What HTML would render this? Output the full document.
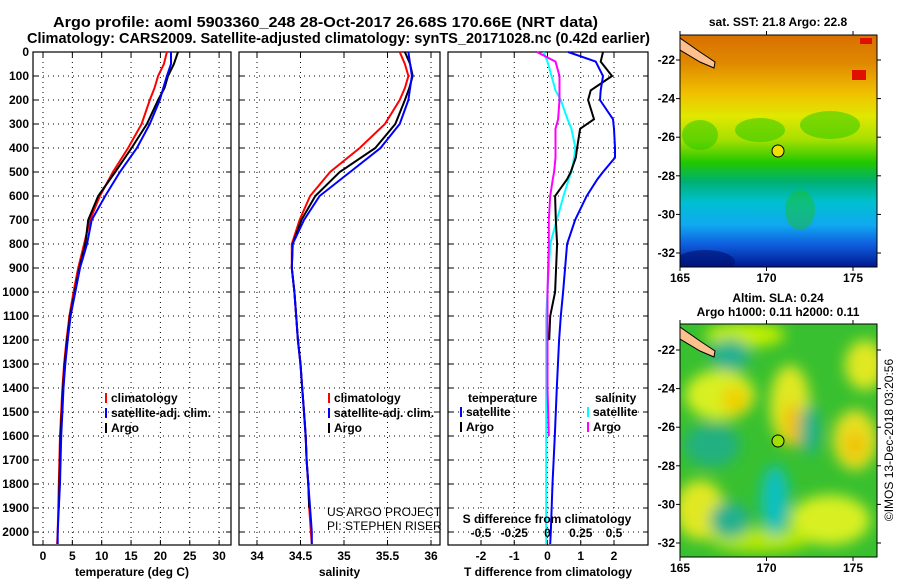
<!DOCTYPE html>
<html><head><meta charset="utf-8">
<style>
body{margin:0;background:#fff;}
svg{display:block;font-family:"Liberation Sans",sans-serif;font-weight:bold;}
</style></head>
<body>
<svg id="fig" width="900" height="580" viewBox="0 0 900 580">
<defs>
<linearGradient id="sstGrad" x1="0" y1="0" x2="0" y2="1">
<stop offset="0" stop-color="#d87000"/><stop offset="0.12" stop-color="#e08800"/>
<stop offset="0.25" stop-color="#f0c000"/><stop offset="0.35" stop-color="#e0e800"/>
<stop offset="0.45" stop-color="#a8e000"/><stop offset="0.55" stop-color="#20c800"/>
<stop offset="0.63" stop-color="#00b070"/><stop offset="0.72" stop-color="#00c0d0"/>
<stop offset="0.82" stop-color="#10a8f0"/><stop offset="0.9" stop-color="#1060e0"/>
<stop offset="1" stop-color="#001890"/>
</linearGradient>
<filter id="blur6"><feGaussianBlur stdDeviation="7"/></filter>
<clipPath id="m1"><rect x="680" y="35" width="197" height="232"/></clipPath>
<clipPath id="m2"><rect x="680" y="324" width="197" height="233"/></clipPath>
</defs>
<text x="53" y="27" font-size="15" textLength="545" lengthAdjust="spacingAndGlyphs">Argo profile: aoml 5903360_248 28-Oct-2017 26.68S 170.66E (NRT data)</text>
<text x="27" y="43" font-size="15" textLength="623" lengthAdjust="spacingAndGlyphs">Climatology: CARS2009. Satellite-adjusted climatology: synTS_20171028.nc (0.42d earlier)</text>
<g id="plots"></g>

<!-- SST map -->
<g>
<text x="778" y="26" font-size="12" text-anchor="middle">sat. SST: 21.8 Argo: 22.8</text>
<g clip-path="url(#m1)">
<rect x="680" y="35" width="197" height="232" fill="url(#sstGrad)"/>
<rect x="860" y="38" width="12" height="6" fill="#e01000"/>
<rect x="852" y="70" width="14" height="10" fill="#e01000"/>
<ellipse cx="700" cy="135" rx="18" ry="15" fill="#20c800" opacity="0.5"/>
<ellipse cx="760" cy="130" rx="25" ry="12" fill="#20c800" opacity="0.5"/>
<ellipse cx="830" cy="125" rx="30" ry="14" fill="#20c800" opacity="0.5"/>
<ellipse cx="800" cy="210" rx="15" ry="20" fill="#20c000" opacity="0.4"/>
<ellipse cx="705" cy="262" rx="30" ry="12" fill="#001070" opacity="0.6"/>
<polygon points="680,38 700,52 715,62 714,68 700,62 680,50" fill="#ffc090" stroke="#000" stroke-width="1"/>
</g>
<rect x="680" y="35" width="197" height="232" fill="none" stroke="#000"/>
<circle cx="778" cy="151" r="6" fill="#f0e000" stroke="#000"/>
</g>

<!-- SLA map -->
<g>
<text x="778" y="302" font-size="12" text-anchor="middle">Altim. SLA: 0.24</text>
<text x="778" y="316" font-size="12" text-anchor="middle">Argo h1000: 0.11 h2000: 0.11</text>
<g clip-path="url(#m2)">
<rect x="680" y="324" width="197" height="233" fill="#38c030"/>
<g filter="url(#blur6)">
<ellipse cx="745" cy="335" rx="40" ry="12" fill="#c8f000"/>
<ellipse cx="720" cy="395" rx="35" ry="25" fill="#d8f020"/>
<ellipse cx="735" cy="400" rx="14" ry="14" fill="#f0d000"/>
<ellipse cx="790" cy="405" rx="20" ry="40" fill="#e0e820"/>
<ellipse cx="793" cy="425" rx="10" ry="22" fill="#f0c000"/>
<ellipse cx="865" cy="365" rx="20" ry="25" fill="#e0e820"/>
<ellipse cx="855" cy="440" rx="22" ry="30" fill="#e8e020"/>
<ellipse cx="855" cy="445" rx="10" ry="14" fill="#f0c000"/>
<ellipse cx="700" cy="510" rx="25" ry="30" fill="#e0e820"/>
<ellipse cx="830" cy="520" rx="40" ry="25" fill="#d8f020"/>
<ellipse cx="760" cy="540" rx="50" ry="12" fill="#b8e800"/>
<ellipse cx="730" cy="355" rx="20" ry="16" fill="#20b090"/>
<ellipse cx="712" cy="445" rx="28" ry="22" fill="#20b080"/>
<ellipse cx="775" cy="500" rx="14" ry="35" fill="#10c0c0"/>
<ellipse cx="730" cy="520" rx="20" ry="18" fill="#20b090"/>
<ellipse cx="810" cy="430" rx="10" ry="25" fill="#20b090"/>
</g>
<polygon points="680,327 700,341 715,351 714,357 700,351 680,339" fill="#ffc090" stroke="#000" stroke-width="1"/>
</g>
<rect x="680" y="324" width="197" height="233" fill="none" stroke="#000"/>
<circle cx="778" cy="441" r="6" fill="#a0e000" stroke="#000"/>
<text transform="translate(893,440) rotate(-90)" font-size="12" font-weight="normal" text-anchor="middle">©IMOS 13-Dec-2018 03:20:56</text>
</g>
<g id="maxes"></g>
</svg>
<script>
// ---- data ----
const tDepth = [0,50,100,150,200,300,400,500,600,700,800,900,1000,1100,1200,1300,1400,1500,1600,1700,1800,1900,2000,2050];
const tempClim = [21.1,20.6,19.6,19.0,18.2,16.8,14.5,11.9,9.7,8.0,7.0,6.0,5.2,4.5,4.0,3.6,3.3,3.1,2.9,2.8,2.7,2.6,2.5,2.4];
const tempSat  = [21.8,21.8,21.1,20.5,19.9,18.2,16.0,13.1,10.6,8.3,7.5,6.3,5.5,4.7,4.2,3.8,3.5,3.3,3.1,3.0,2.9,2.7,2.5,2.5];
const tempArgo = [23.0,22.3,21.3,20.7,19.6,17.7,15.1,12.3,9.4,7.7,7.2,6.2,5.4,4.6,4.1,3.7,3.4,3.2,3.0,2.9,2.8,2.7];
const salClim = [35.64,35.70,35.74,35.70,35.64,35.47,35.18,34.84,34.61,34.49,34.40,34.40,34.43,34.45,34.47,34.50,34.52,34.54,34.56,34.57,34.59,34.60,34.62,34.63];
const salSat  = [35.74,35.76,35.78,35.76,35.74,35.64,35.42,35.07,34.72,34.54,34.41,34.40,34.43,34.45,34.47,34.50,34.52,34.54,34.56,34.57,34.59,34.61,34.63,34.63];
const salArgo = [35.70,35.76,35.79,35.75,35.70,35.59,35.36,34.95,34.67,34.51,34.41,34.40,34.43,34.45,34.47,34.50,34.52,34.54,34.56,34.57,34.59,34.60];
const dDepth = [0,40,100,160,200,280,320,400,440,500,530,600,700,800,1000,1100,1200,1400,1600,1800,2000,2050];
const dTsat  = [0.62,1.45,1.67,1.6,1.58,1.97,2.0,2.03,2.03,1.67,1.5,1.18,0.83,0.59,0.47,0.4,0.35,0.28,0.22,0.15,0.1,0.08];
const dTargo = [1.67,1.6,1.94,1.3,1.22,1.4,0.98,0.89,0.85,0.7,0.59,0.23,0.25,0.29,0.23,0.08,0.05];
const dSsat  = [-0.03,0.0,0.03,0.06,0.1,0.15,0.18,0.21,0.2,0.18,0.16,0.12,0.07,0.02,0.0,-0.01,-0.01,-0.01,-0.01,-0.01,-0.01,-0.01];
const dSargo = [-0.08,0.06,0.09,0.09,0.09,0.08,0.06,0.06,0.06,0.05,0.04,0.02,0.01,0.01,0.0,0.0,0.0,0.0,0.01];
const depthTicks = [0,100,200,300,400,500,600,700,800,900,1000,1100,1200,1300,1400,1500,1600,1700,1800,1900,2000];
const tTicks = [0,5,10,15,20,25,30];
const sTicks = [34,34.5,35,35.5,36];
const dtTicks = [-2,-1,0,1,2];
const dsTicks = [-0.5,-0.25,0,0.25,0.5];
const dsTickLabels = ["-0.5","-0.25","0","0.25","0.5"];
const lonTicks = [165,170,175];
const latTicks = [-22,-24,-26,-28,-30,-32];

const NS="http://www.w3.org/2000/svg";
const g=document.getElementById('plots');
function el(tag,attrs,parent,txt){const e=document.createElementNS(NS,tag);for(const k in attrs)e.setAttribute(k,attrs[k]);if(txt!==undefined)e.textContent=txt;(parent||g).appendChild(e);return e;}
const yD = d => 52 + d*0.2400;
const PT=52, PB=545;
function panel(name,x0,x1,xs,ticks,labels,title){
  const grp=el('g',{});
  
  
  ticks.forEach(t=>{const x=xs(t);
    el('line',{x1:x,x2:x,y1:PT,y2:PB,stroke:'#000','stroke-width':1,'stroke-dasharray':'1,4'},grp);
    el('line',{x1:x,x2:x,y1:PB,y2:PB-5,stroke:'#000'},grp);
    el('line',{x1:x,x2:x,y1:PT,y2:PT+5,stroke:'#000'},grp);});
  depthTicks.forEach(d=>{const y=yD(d);
    el('line',{x1:x0,x2:x1,y1:y,y2:y,stroke:'#000','stroke-dasharray':'1,4'},grp);
    el('line',{x1:x0,x2:x0+5,y1:y,y2:y,stroke:'#000'},grp);
    el('line',{x1:x1-5,x2:x1,y1:y,y2:y,stroke:'#000'},grp);});
  if(labels){ticks.forEach((t,i)=>{const lb=el('text',{x:xs(t),y:560,'font-size':12,'text-anchor':'middle'},grp,labels[i]);
    
    });}
  if(title){const tt=el('text',{x:(x0+x1)/2,y:576,'font-size':12,'text-anchor':'middle'},grp,title);
    
    }
  const fr=el('rect',{x:x0,y:PT,width:x1-x0,height:PB-PT,fill:'none',stroke:'#000','stroke-width':1.2},grp);
  
  
  return grp;
}
function line(grp,xs,vals,depths,color,w,name){
  let pts=vals.map((v,i)=>xs(v).toFixed(1)+','+yD(depths[i]).toFixed(1)).join(' ');
  const p=el('polyline',{points:pts,fill:'none',stroke:color,'stroke-width':w},grp);
  
  
}
function legend(grp,x,y,items,name){
  items.forEach((it,i)=>{
    el('rect',{x:x,y:y+i*15-9,width:2,height:10,fill:it[1]},grp);
    const t=el('text',{x:x+6,y:y+i*15,'font-size':12},grp,it[0]);
    
    
  });
}
depthTicks.forEach(d=>{const t=el('text',{x:29,y:yD(d)+4,'font-size':12,'text-anchor':'end'},g,String(d));
  
  });
const xT=v=>43+v*5.87;
const p1=panel('temperature',33,231,xT,tTicks,tTicks.map(String),'temperature (deg C)');
line(p1,xT,tempClim,tDepth,'#f00',2,'temp-climatology-line');
line(p1,xT,tempArgo,tDepth,'#000',2,'temp-argo-line');
line(p1,xT,tempSat,tDepth,'#00f',2,'temp-satellite-line');
legend(p1,105,402,[['climatology','#f00'],['satellite-adj. clim.','#00f'],['Argo','#000']],'temp');
const xS=v=>257+(v-34)*87;
const p2=panel('salinity',239,440,xS,sTicks,sTicks.map(String),'salinity');
line(p2,xS,salClim,tDepth,'#f00',2,'sal-climatology-line');
line(p2,xS,salArgo,tDepth,'#000',2,'sal-argo-line');
line(p2,xS,salSat,tDepth,'#00f',2,'sal-satellite-line');
legend(p2,328,402,[['climatology','#f00'],['satellite-adj. clim.','#00f'],['Argo','#000']],'sal');
const c1=el('text',{x:327,y:516,'font-size':12,'font-weight':'normal'},p2,'US ARGO PROJECT');

const c2=el('text',{x:327,y:530,'font-size':12,'font-weight':'normal'},p2,'PI: STEPHEN RISER');

const xDT=v=>547.5+v*33.25, xDS=v=>547.5+v*133;
const p3=panel('difference',448,648,xDT,dtTicks,dtTicks.map(String),'T difference from climatology');
line(p3,xDS,dSsat,dDepth,'#0ff',2,'sdiff-satellite-line');
line(p3,xDS,dSargo,dDepth,'#f0f',2,'sdiff-argo-line');
line(p3,xDT,dTargo,dDepth,'#000',2,'tdiff-argo-line');
line(p3,xDT,dTsat,dDepth,'#00f',2,'tdiff-satellite-line');
dsTicks.forEach((t,i)=>{const tl=el('text',{x:xDS(t),y:537,'font-size':12,'text-anchor':'middle'},p3,dsTickLabels[i]);
  });
const st=el('text',{x:547,y:523,'font-size':12,'text-anchor':'middle'},p3,'S difference from climatology');

const lt=el('text',{x:468,y:402,'font-size':12},p3,'temperature');

legend(p3,460,416,[['satellite','#00f'],['Argo','#000']],'tdiff');
const ls=el('text',{x:595,y:402,'font-size':12},p3,'salinity');

legend(p3,587,416,[['satellite','#0ff'],['Argo','#f0f']],'sdiff');
const mx=el('g',{},document.getElementById('maxes'));
const lonX=l=>680+(l-165)*17.3;
[[35,267,60,19.3,'sst'],[324,557,350,19.3,'sla']].forEach(m=>{
  lonTicks.forEach(l=>{
    el('line',{x1:lonX(l),x2:lonX(l),y1:m[1],y2:m[1]+4,stroke:'#000'},mx);
    el('line',{x1:lonX(l),x2:lonX(l),y1:m[0],y2:m[0]-4,stroke:'#000'},mx);
    const t=el('text',{x:lonX(l),y:m[1]+15,'font-size':12,'text-anchor':'middle'},mx,String(l));
    
    
  });
  latTicks.forEach(a=>{const y=m[2]+(-22-a)*m[3];
    el('line',{x1:676,x2:680,y1:y,y2:y,stroke:'#000'},mx);
    el('line',{x1:877,x2:881,y1:y,y2:y,stroke:'#000'},mx);
    const t2=el('text',{x:675,y:y+4,'font-size':12,'text-anchor':'end'},mx,String(a));
    
    
  });
});
</script>
</body></html>
